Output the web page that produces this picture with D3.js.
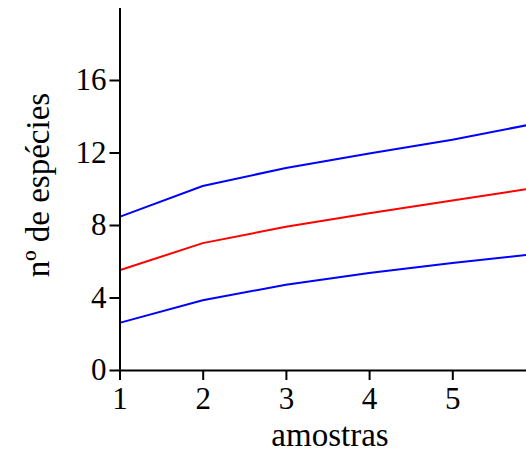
<!DOCTYPE html>
<html>
<head>
<meta charset="utf-8">
<script src="https://cdn.jsdelivr.net/npm/d3@7"></script>
<style>
  body { margin: 0; background: #fff; }
  svg { display: block; }
  .tick text { font-family: "Liberation Serif", "Times New Roman", serif; }
</style>
</head>
<body>
<div id="chart"></div>
<script>
var width = 526;
var height = 454;

// amostras 1..6 (the last point lies past the right edge, as in the original)
var samples = [1, 2, 3, 4, 5, 6];
var upper = [8.45, 10.15, 11.15, 11.95, 12.7, 13.6];
var mean = [5.5, 7.0, 7.9, 8.65, 9.35, 10.05];
var lower = [2.6, 3.85, 4.7, 5.35, 5.9, 6.4];
var yTicks = [0, 4, 8, 12, 16];
var xTicks = [1, 2, 3, 4, 5];

var svg = d3.select("#chart")
    .append("svg")
    .attr("width", width)
    .attr("height", height);

var x = d3.scaleLinear()
    .domain([1, 6])
    .range([119.5, 535.5]);

var y = d3.scaleLinear()
    .domain([0, 20])
    .range([370, 7.5]);

var line = d3.line()
    .x(function (d, i) { return x(samples[i]); })
    .y(function (d) { return y(d); });

var series = [
    { values: upper, color: "#0000ff" },
    { values: mean, color: "#ff0000" },
    { values: lower, color: "#0000ff" }
];

svg.selectAll("path.serie")
    .data(series)
    .enter()
    .append("path")
    .attr("class", "serie")
    .attr("d", function (d) { return line(d.values); })
    .attr("fill", "none")
    .attr("stroke", function (d) { return d.color; })
    .attr("stroke-width", 2);

var yAxis = svg.append("g")
    .attr("transform", "translate(119.5,0)")
    .call(d3.axisLeft(y).tickValues(yTicks).tickFormat(d3.format("d"))
        .tickSize(10).tickPadding(3).tickSizeOuter(0));

var xAxis = svg.append("g")
    .attr("transform", "translate(0,370)")
    .call(d3.axisBottom(x).tickValues(xTicks).tickFormat(d3.format("d"))
        .tickSize(10).tickPadding(7).tickSizeOuter(0));

[xAxis, yAxis].forEach(function (g) {
    g.selectAll("path, line").attr("stroke", "#000").attr("stroke-width", 2);
    g.selectAll("text").attr("font-size", 31).attr("fill", "#000");
});

svg.append("text")
    .attr("x", 330)
    .attr("y", 446)
    .attr("text-anchor", "middle")
    .attr("font-family", "Liberation Serif, serif")
    .attr("font-size", 33)
    .text("amostras");

svg.append("text")
    .attr("transform", "translate(49,185) rotate(-90)")
    .attr("text-anchor", "middle")
    .attr("font-family", "Liberation Serif, serif")
    .attr("font-size", 33)
    .text("nº de espécies");
</script>
</body>
</html>
